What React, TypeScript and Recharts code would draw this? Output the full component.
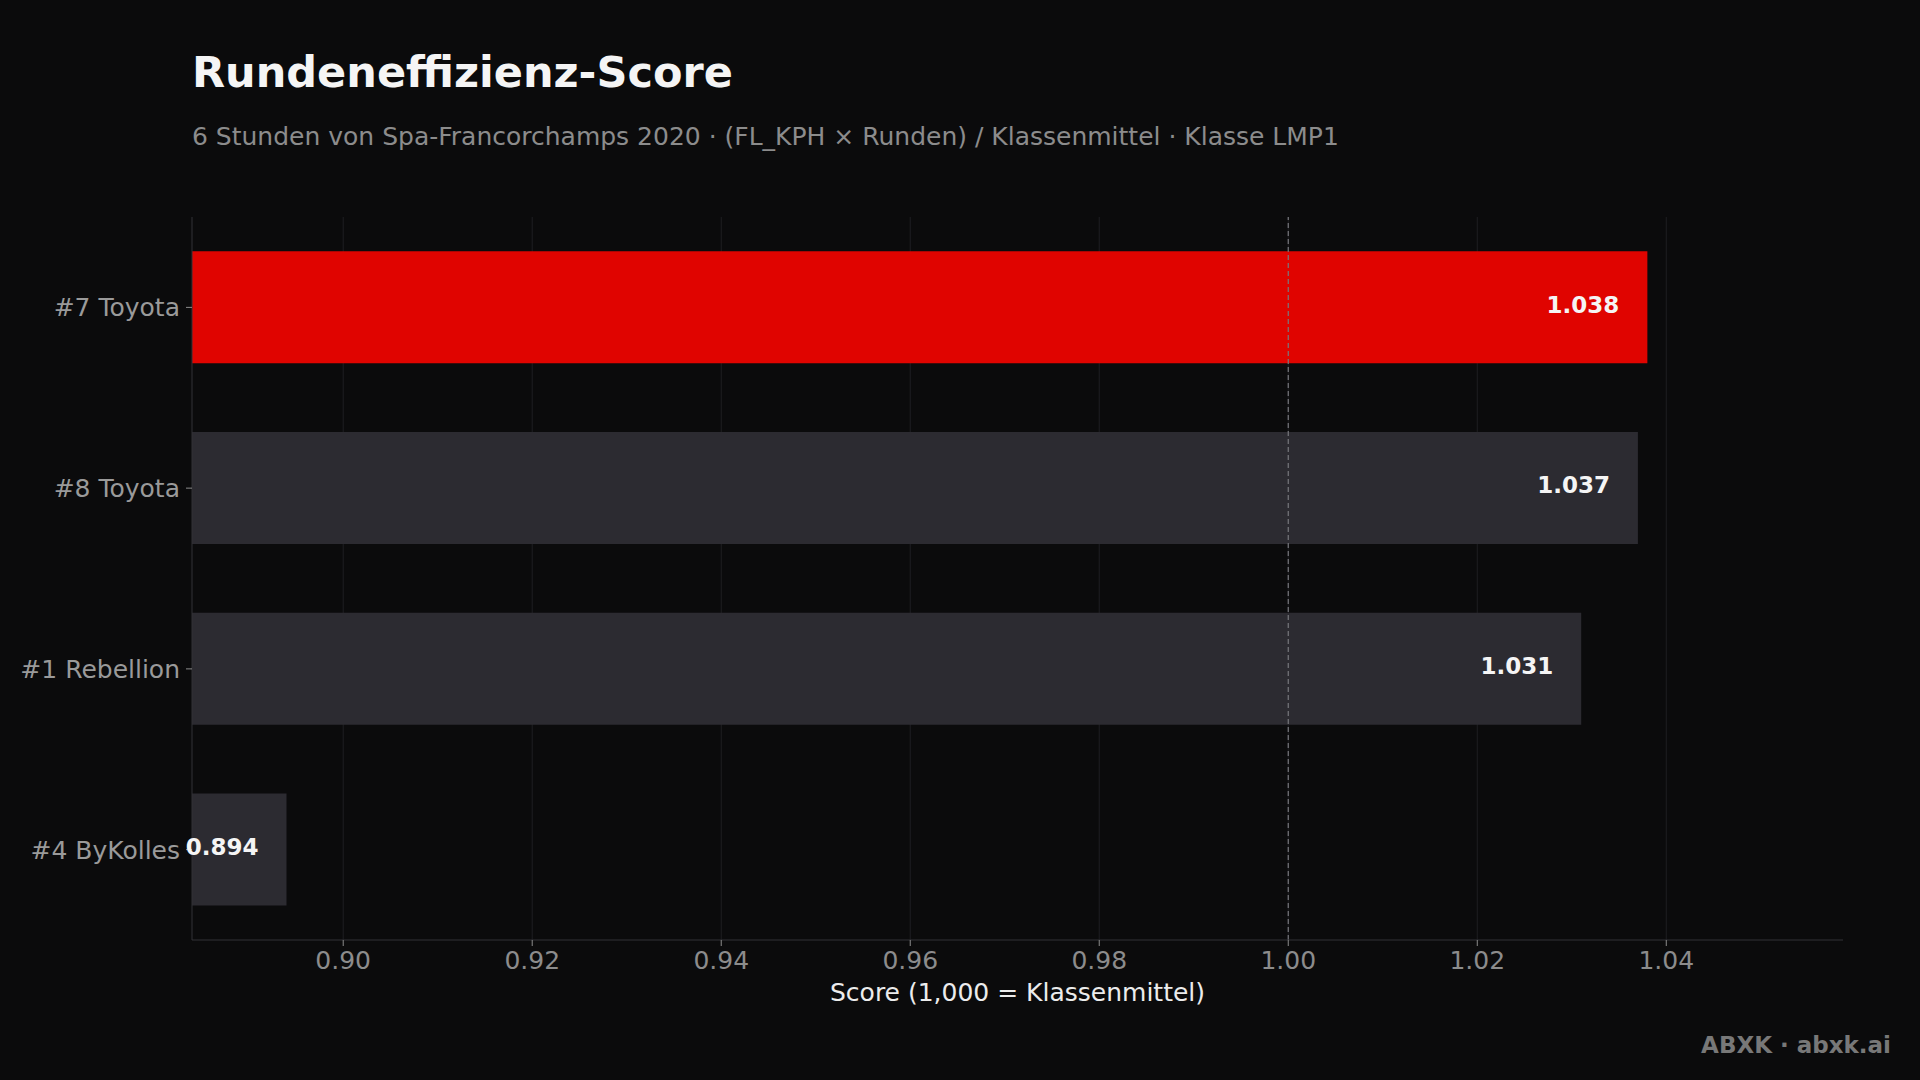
import { BarChart, Bar, XAxis, YAxis, CartesianGrid, ReferenceLine, LabelList, Cell } from "recharts";

const CARS = ["#7 Toyota", "#8 Toyota", "#1 Rebellion", "#4 ByKolles"];
const SCORES = [1.038, 1.037, 1.031, 0.894];
const X_TICKS = [0.9, 0.92, 0.94, 0.96, 0.98, 1.0, 1.02, 1.04];
const HIGHLIGHT = "#7 Toyota";

const BG = "#0b0b0c";
const RED = "#e00400";
const GREY_BAR = "#2c2b31";
const FONT = "'DejaVu Sans', sans-serif";

const data = CARS.map((car, i) => ({ car, score: SCORES[i] }));

export default function App() {
  return (
    <div style={{ position: "absolute", left: 0, top: 0, width: 1920, height: 1080, background: BG, fontFamily: FONT, overflow: "hidden" }}>
      <div style={{ position: "absolute", left: 192, top: 46, fontSize: 43, fontWeight: 700, color: "#f5f5f5", lineHeight: "52px" }}>
        Rundeneffizienz-Score
      </div>
      <div style={{ position: "absolute", left: 192, top: 122, fontSize: 25, color: "#8c8c8c", lineHeight: "30px" }}>
        6 Stunden von Spa-Francorchamps 2020 · (FL_KPH × Runden) / Klassenmittel · Klasse LMP1
      </div>

      <div style={{ position: "absolute", left: 0, top: 0 }}>
        <BarChart
          width={1920}
          height={1080}
          data={data}
          layout="vertical"
          margin={{ top: 217, right: 77, bottom: 70, left: 12 }}
          barCategoryGap="19%"
        >
          <CartesianGrid horizontal={false} stroke="#1f1f22" strokeWidth={1} verticalValues={X_TICKS} />
          <XAxis
            type="number"
            dataKey="score"
            domain={[0.884, 1.0587]}
            ticks={X_TICKS}
            allowDataOverflow
            tickFormatter={(v: number) => v.toFixed(2)}
            tick={{ fontSize: 25, fill: "#8c8c8c", fontFamily: FONT }}
            tickSize={6}
            tickMargin={5}
            tickLine={{ stroke: "#8c8c8c" }}
            axisLine={{ stroke: "#333336" }}
            height={70}
            label={{ value: "Score (1,000 = Klassenmittel)", position: "insideBottom", offset: 9, fontSize: 25, fill: "#ececec", fontFamily: FONT }}
          />
          <YAxis
            type="category"
            dataKey="car"
            width={180}
            tick={{ fontSize: 25, fill: "#9a9a9a", fontFamily: FONT }}
            tickSize={6}
            tickMargin={6}
            tickLine={{ stroke: "#8c8c8c" }}
            axisLine={{ stroke: "#333336" }}
          />
          <Bar dataKey="score" isAnimationActive={false}>
            {data.map((d) => (
              <Cell key={d.car} fill={d.car === HIGHLIGHT ? RED : GREY_BAR} />
            ))}
            <LabelList
              dataKey="score"
              position="insideRight"
              offset={28}
              formatter={(v: number) => v.toFixed(3)}
              style={{ fontSize: 23, fontWeight: 700, fill: "#f5f5f5", fontFamily: FONT, transform: "translateY(-3px)" }}
            />
          </Bar>
          <ReferenceLine x={1} stroke="#77777c" strokeDasharray="5 3" strokeWidth={1.2} />
        </BarChart>
      </div>

      <div style={{ position: "absolute", right: 29, top: 1030, fontSize: 23, fontWeight: 700, color: "#787878", lineHeight: "30px" }}>
        ABXK · abxk.ai
      </div>
    </div>
  );
}
